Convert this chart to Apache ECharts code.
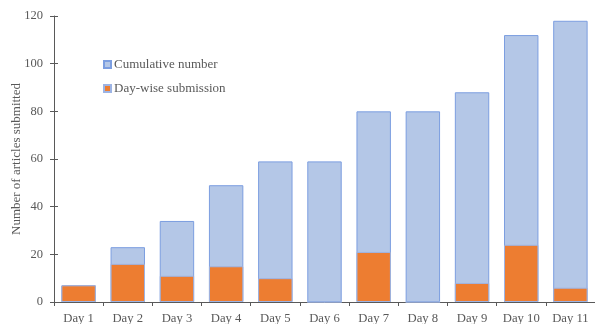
<!DOCTYPE html>
<html><head><meta charset="utf-8">
<script src="https://cdn.jsdelivr.net/npm/echarts@6/dist/echarts.min.js"></script>
<style>html,body{margin:0;padding:0;background:#fff}#c{width:595px;height:324px}</style>
</head><body><div id="c"></div>
<script>
const categories = ['Day 1','Day 2','Day 3','Day 4','Day 5','Day 6','Day 7','Day 8','Day 9','Day 10','Day 11'];
const cumulative = [7, 23, 34, 49, 59, 59, 80, 80, 88, 112, 118];
const daywise = [7, 16, 11, 15, 10, 0, 21, 0, 8, 24, 6];
const yTicks = {min: 0, max: 120, interval: 20};
const font = 'Liberation Serif';
const txt = '#595959';
const chart = echarts.init(document.getElementById('c'));
chart.setOption({
  animation: false,
  textStyle: {fontFamily: font},
  grid: {left: 54, right: 0, top: 16, bottom: 22, containLabel: false, outerBoundsMode: 'none'},
  legend: {
    orient: 'vertical', left: 98, top: 53, itemWidth: 7, itemHeight: 7, itemGap: 11,
    icon: 'rect',
    textStyle: {fontFamily: font, fontSize: 13, color: txt, padding: [0, 0, 0, -2]},
    data: ['Cumulative number', 'Day-wise submission']
  },
  xAxis: {
    type: 'category', data: categories,
    axisLine: {lineStyle: {color: '#595959'}},
    axisTick: {show: true, length: 4, lineStyle: {color: '#595959'}},
    axisLabel: {color: txt, fontFamily: font, fontSize: 12.7, margin: 10}
  },
  yAxis: [{
    type: 'value', min: yTicks.min, max: yTicks.max, interval: yTicks.interval,
    name: 'Number of articles submitted', nameLocation: 'middle', nameGap: 31, nameMoveOverlap: false,
    nameTextStyle: {color: txt, fontFamily: font, fontSize: 13},
    axisLine: {show: true, lineStyle: {color: '#595959'}},
    axisTick: {show: true, length: 4, lineStyle: {color: '#595959'}},
    splitLine: {show: false},
    axisLabel: {color: txt, fontFamily: font, fontSize: 12.5, margin: 11}
  }, {
    type: 'value', position: 'left', min: yTicks.min, max: yTicks.max, interval: yTicks.interval,
    axisLine: {show: false},
    axisTick: {show: true, inside: true, length: 4, lineStyle: {color: '#595959'}},
    axisLabel: {show: false}, splitLine: {show: false}
  }],
  series: [
    {name: 'Cumulative number', type: 'bar', data: cumulative, barWidth: '70%', barGap: '-100%',
     itemStyle: {color: '#b4c7e7', borderColor: '#7c9ee0', borderWidth: 1}},
    {name: 'Day-wise submission', type: 'bar', data: daywise, barWidth: '70%', barGap: '-100%',
     itemStyle: {color: '#ed7d31', borderColor: '#9db4e4', borderWidth: 1}}
  ]
});
</script></body></html>
